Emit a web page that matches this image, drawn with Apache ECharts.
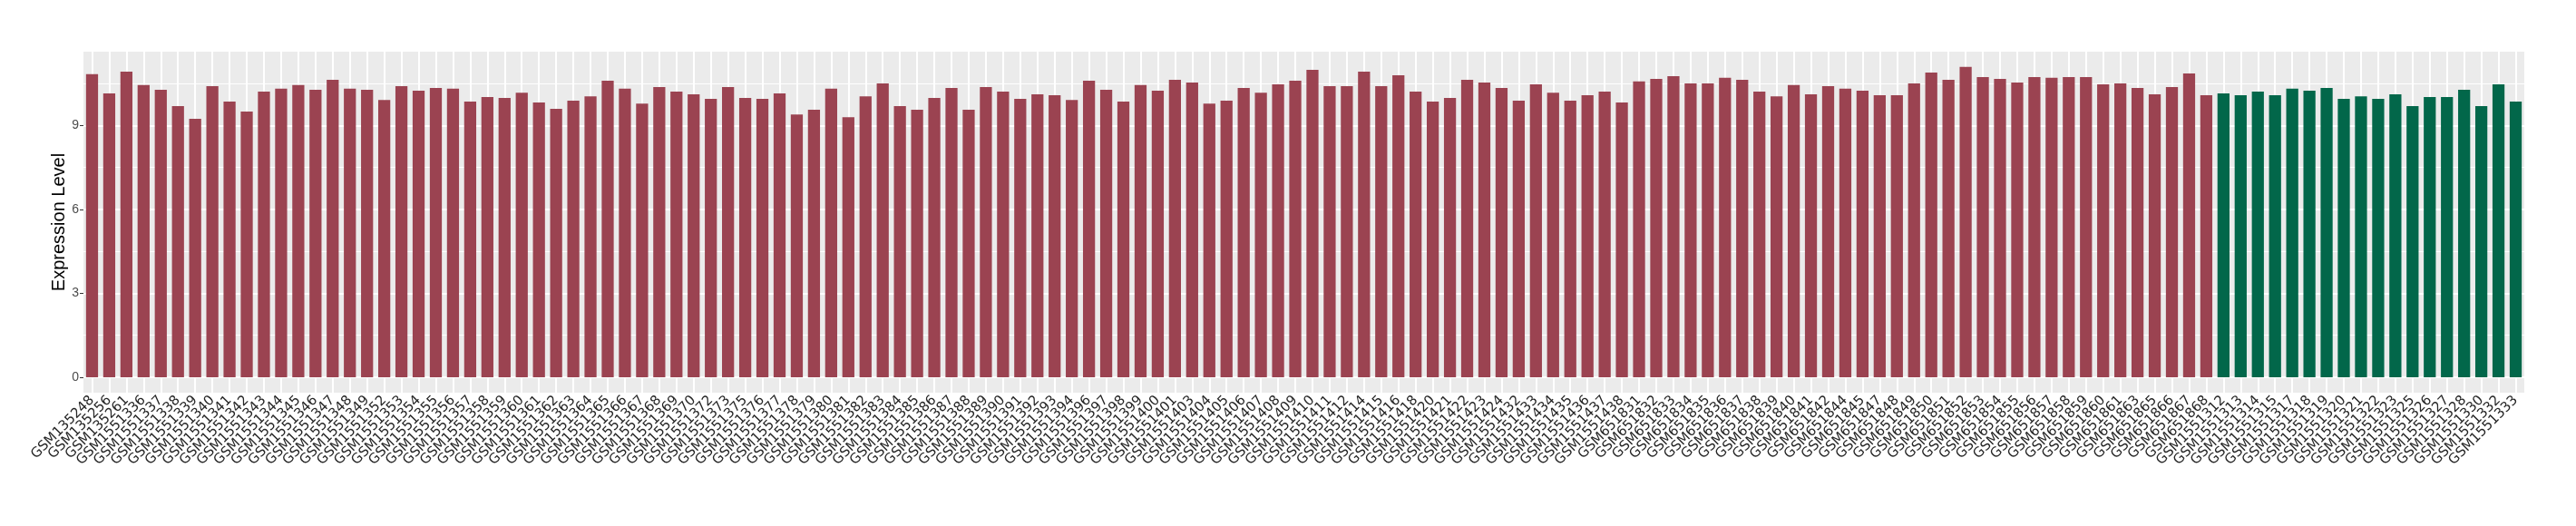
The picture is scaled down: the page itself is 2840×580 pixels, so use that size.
<!DOCTYPE html>
<html>
<head>
<meta charset="utf-8">
<script src="https://cdn.jsdelivr.net/npm/echarts@6/dist/echarts.min.js"></script>
<style>
html,body{margin:0;padding:0;background:#fff;}
#chart{width:2840px;height:580px;}
</style>
</head>
<body>
<div id="chart"></div>
<script>
// Red group (tumor) samples
const categoriesRed = [
  "GSM135248","GSM135256","GSM135261",
  "GSM1551336","GSM1551337","GSM1551338","GSM1551339","GSM1551340","GSM1551341","GSM1551342","GSM1551343","GSM1551344","GSM1551345","GSM1551346","GSM1551347","GSM1551348","GSM1551349",
  "GSM1551352","GSM1551353","GSM1551354","GSM1551355","GSM1551356","GSM1551357","GSM1551358","GSM1551359","GSM1551360","GSM1551361","GSM1551362","GSM1551363","GSM1551364","GSM1551365","GSM1551366","GSM1551367","GSM1551368","GSM1551369","GSM1551370",
  "GSM1551372","GSM1551373",
  "GSM1551375","GSM1551376","GSM1551377","GSM1551378","GSM1551379","GSM1551380","GSM1551381","GSM1551382","GSM1551383","GSM1551384","GSM1551385","GSM1551386","GSM1551387","GSM1551388","GSM1551389","GSM1551390","GSM1551391","GSM1551392","GSM1551393","GSM1551394",
  "GSM1551396","GSM1551397","GSM1551398","GSM1551399","GSM1551400","GSM1551401",
  "GSM1551403","GSM1551404","GSM1551405","GSM1551406","GSM1551407","GSM1551408","GSM1551409","GSM1551410","GSM1551411","GSM1551412",
  "GSM1551414","GSM1551415","GSM1551416",
  "GSM1551418",
  "GSM1551420","GSM1551421","GSM1551422","GSM1551423","GSM1551424",
  "GSM1551432","GSM1551433","GSM1551434","GSM1551435","GSM1551436","GSM1551437","GSM1551438",
  "GSM651831","GSM651832","GSM651833","GSM651834","GSM651835","GSM651836","GSM651837","GSM651838","GSM651839","GSM651840","GSM651841","GSM651842",
  "GSM651844","GSM651845",
  "GSM651847","GSM651848","GSM651849","GSM651850","GSM651851","GSM651852","GSM651853","GSM651854","GSM651855","GSM651856","GSM651857","GSM651858","GSM651859","GSM651860","GSM651861",
  "GSM651863",
  "GSM651865","GSM651866","GSM651867","GSM651868"
];
const valuesRed = [
  10.84,10.15,10.93,10.45,10.28,9.70,9.24,10.41,9.86,9.50,10.22,10.32,10.45,10.28,10.64,10.32,10.28,9.92,10.41,10.25,
  10.35,10.32,9.86,10.02,9.99,10.18,9.83,9.60,9.89,10.05,10.61,10.32,9.79,10.38,10.22,10.12,
  9.96,10.38,9.99,9.96,10.15,9.40,9.57,10.32,9.30,10.05,10.51,9.70,9.57,9.99,10.35,9.57,10.38,10.22,9.96,10.12,
  10.09,9.92,10.61,10.28,9.86,10.45,10.25,10.64,10.54,9.79,9.89,10.35,10.18,10.48,10.61,
  11.00,10.41,10.41,10.93,10.41,10.80,10.22,9.86,9.99,10.64,10.54,10.35,9.89,10.48,10.18,9.89,10.09,10.22,9.83,10.58,
  10.67,10.77,10.51,10.51,10.71,10.64,10.22,10.05,10.45,10.12,10.41,10.32,10.25,10.09,10.09,10.51,
  10.90,10.64,11.10,10.74,10.67,10.54,10.74,10.71,10.74,10.74,10.48,10.51,10.35,10.12,10.38,10.87,10.09
];
// Green group (normal) samples
const categoriesGreen = [
  "GSM1551312","GSM1551313","GSM1551314","GSM1551315","GSM1551317","GSM1551318","GSM1551319","GSM1551320","GSM1551321",
  "GSM1551322","GSM1551323","GSM1551325","GSM1551326","GSM1551327","GSM1551328","GSM1551330","GSM1551332","GSM1551333"
];
const valuesGreen = [
  10.15,10.09,10.22,10.09,10.32,10.25,10.35,9.96,10.05,9.96,10.12,9.70,10.02,10.02,10.28,9.70,10.48,9.86
];
const yTicks = [0, 3, 6, 9];
const yMinorTicks = [1.5, 4.5, 7.5, 10.5];
const yTitle = "Expression Level";

const colorRed = "#9B4351";
const colorGreen = "#02674A";

const categories = categoriesRed.concat(categoriesGreen);
const barData = valuesRed.map(v => ({value: v, itemStyle: {color: colorRed}}))
  .concat(valuesGreen.map(v => ({value: v, itemStyle: {color: colorGreen}})));

const gridLines = []
  .concat(yMinorTicks.map(v => ({yAxis: v, lineStyle: {width: 1.1}})))
  .concat(yTicks.map(v => ({yAxis: v, lineStyle: {width: 2}})))
  .concat(categories.map(c => ({xAxis: c, lineStyle: {width: 2}})));

const chart = echarts.init(document.getElementById('chart'), null, {renderer: 'canvas'});
chart.setOption({
  animation: false,
  backgroundColor: '#ffffff',
  grid: {
    left: 92, right: 57, top: 57, bottom: 147,
    show: true, backgroundColor: '#EBEBEB', borderWidth: 0
  },
  xAxis: {
    type: 'category',
    data: categories,
    boundaryGap: true,
    axisLine: {show: false},
    axisTick: {show: true, alignWithLabel: true, length: 4, lineStyle: {color: '#333333', width: 1}},
    axisLabel: {
      interval: 0, rotate: 45, margin: 6,
      fontFamily: 'DejaVu Sans', fontSize: 15, color: '#262626'
    },
    splitLine: {show: false}
  },
  yAxis: {
    type: 'value',
    min: -0.555, max: 11.645,
    name: yTitle,
    nameLocation: 'middle',
    nameGap: 17,
    nameMoveOverlap: false,
    nameTextStyle: {fontFamily: 'Liberation Sans', fontSize: 20, color: '#000000'},
    axisLine: {show: false},
    axisTick: {show: true, length: 4, customValues: yTicks, lineStyle: {color: '#333333', width: 1}},
    axisLabel: {customValues: yTicks, margin: 5, fontFamily: 'Liberation Sans', fontSize: 14, color: '#4D4D4D'},
    splitLine: {show: false}
  },
  series: [
    {
      type: 'line',
      data: [],
      z: 0,
      zlevel: 0,
      silent: true,
      markLine: {
        silent: true,
        symbol: ['none', 'none'],
        label: {show: false},
        lineStyle: {color: '#FFFFFF', type: 'solid', width: 2},
        emphasis: {disabled: true},
        data: gridLines
      }
    },
    {
      type: 'bar',
      z: 2,
      zlevel: 1,
      barWidth: '70%',
      data: barData
    }
  ]
});
</script>
</body>
</html>
